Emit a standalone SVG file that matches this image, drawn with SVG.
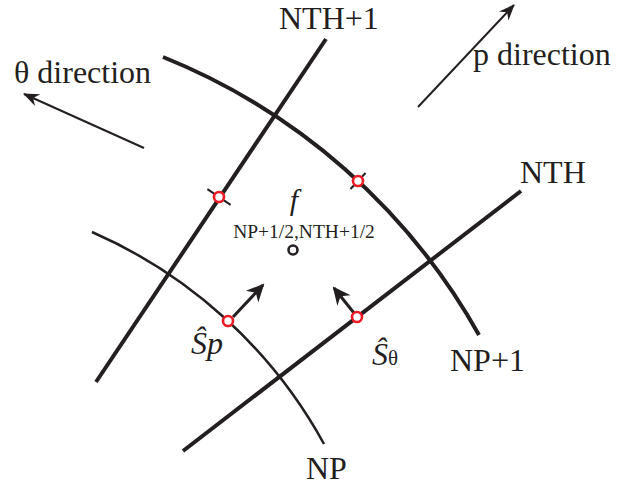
<svg xmlns="http://www.w3.org/2000/svg" width="618" height="486" viewBox="0 0 618 486">
<style>
.t{font-family:"Liberation Serif","Times New Roman",serif;fill:#231f20;}
.lbl{font-size:32px;}
.it{font-style:italic;}
.thick{fill:none;stroke:#231f20;stroke-width:4;}
.thin{fill:none;stroke:#231f20;stroke-width:2.5;}
.tick{fill:none;stroke:#231f20;stroke-width:2;}
.pt{fill:#fff;stroke:#ed1c24;stroke-width:2.6;}
.ctr{fill:#fff;stroke:#231f20;stroke-width:2.6;}
.arr{fill:none;stroke:#231f20;stroke-width:3;}
.dir{fill:none;stroke:#231f20;stroke-width:2;}
</style>
<defs>
<marker id="hBig" viewBox="-19 -9 21 18" refX="-2" refY="0" markerWidth="21" markerHeight="18" markerUnits="userSpaceOnUse" orient="auto">
<path d="M0,0 L-18,-8.5 L-12.5,0 L-18,8.5 Z" fill="#231f20"/>
</marker>
<marker id="hDir" viewBox="-17 -8 19 16" refX="-1" refY="0" markerWidth="19" markerHeight="16" markerUnits="userSpaceOnUse" orient="auto">
<path d="M0,0 L-16,-6.5 L-11,0 L-16,6.5 Z" fill="#231f20"/>
</marker>
</defs>
<g id="grid">
<path id="line-nth1" class="thick" d="M96 382 L326 39"/>
<path id="line-nth" class="thick" d="M183 451 L521 191"/>
<path id="arc-np1" class="thick" d="M163 57 A633 633 0 0 1 479 335"/>
<path id="arc-np" class="thin" d="M92 232 A487 487 0 0 1 324 444"/>
</g>
<g id="connectors">
<path class="arr" d="M233 317 L263 285" marker-end="url(#hBig)"/>
<path class="arr" d="M354 313 L334 288" marker-end="url(#hBig)"/>
<path class="dir" d="M144 148 L24 94" marker-end="url(#hDir)"/>
<path class="dir" d="M418 107 L514 5" marker-end="url(#hDir)"/>
</g>
<g id="node-face-theta">
<path class="tick" d="M207.4 189.2 L230.6 204.8"/>
<circle class="pt" cx="219" cy="197" r="5"/>
</g>
<g id="node-face-p">
<path class="tick" d="M350.5 189 L365.5 173"/>
<circle class="pt" cx="358" cy="181" r="5"/>
</g>
<g id="node-sp">
<circle class="pt" cx="228" cy="321" r="5"/>
</g>
<g id="node-stheta">
<circle class="pt" cx="357" cy="317" r="5"/>
</g>
<g id="node-center">
<circle class="ctr" cx="293" cy="250" r="4.5"/>
<text class="t it" x="294" y="210" font-size="30" text-anchor="middle">f</text>
<text class="t" x="304" y="238" font-size="19.5" text-anchor="middle">NP+1/2,NTH+1/2</text>
</g>
<g id="labels">
<text class="t lbl" x="14" y="83">θ direction</text>
<text class="t lbl" x="473" y="65">p direction</text>
<text class="t lbl" x="279" y="29">NTH+1</text>
<text class="t lbl" x="520" y="183">NTH</text>
<text class="t lbl" x="450" y="371">NP+1</text>
<text class="t lbl" x="306" y="479">NP</text>
<text class="t it" x="191" y="354" font-size="32">Ŝp</text>
<text class="t it" x="372" y="365" font-size="32">Ŝ<tspan font-style="normal" font-size="21">θ</tspan></text>
</g>
</svg>
